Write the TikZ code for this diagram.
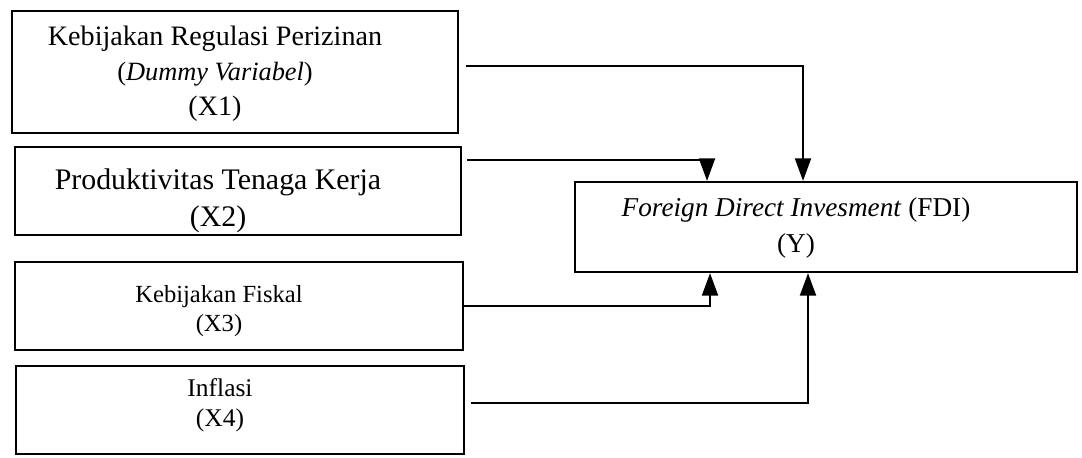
\documentclass[tikz,border=0pt]{standalone}
\usepackage{fontspec}
\setmainfont{Liberation Serif}
\usetikzlibrary{arrows.meta,positioning}

\tikzset{
    varbox/.style={draw, black, line width=1.3pt, inner sep=0pt},
    vartext/.style={align=center, inner sep=0pt},
    arr/.style={-{Triangle[length=4.5mm,width=3.2mm]}, line width=1.1pt}
}

\begin{document}
\begin{tikzpicture}[x=0.02cm, y=-0.02cm]
    \useasboundingbox (0,0) rectangle (1082,457);
    % variabel bebas
    \node [varbox, minimum width=8.92cm, minimum height=2.44cm] (x1) at (235,72) {};
    \node [varbox, minimum width=8.92cm, minimum height=1.76cm] (x2) at (238,191) {};
    \node [varbox, minimum width=8.96cm, minimum height=1.76cm] (x3) at (239,306) {};
    \node [varbox, minimum width=8.96cm, minimum height=1.76cm] (x4) at (240,410) {};
    \node [vartext, font=\fontsize{16}{20}\selectfont] (t1) at ([xshift=-0.4cm,yshift=-0.04cm]x1.center)
        {Kebijakan Regulasi Perizinan\\{\fontsize{15}{20}\selectfont(\textit{Dummy Variabel})}\\(X1)};
    \node [vartext, font=\fontsize{17}{21}\selectfont] (t2) at ([xshift=-0.4cm,yshift=-0.2cm]x2.center)
        {Produktivitas Tenaga Kerja\\(X2)};
    \node [vartext, font=\fontsize{14}{16.5}\selectfont] (t3) at ([xshift=-0.4cm,yshift=-0.1cm]x3.center)
        {Kebijakan Fiskal\\(X3)};
    \node [vartext, font=\fontsize{14.5}{17}\selectfont] (t4) at ([xshift=-0.4cm,yshift=0.1cm]x4.center)
        {Inflasi\\(X4)};
    % variabel terikat
    \node [varbox, minimum width=10.04cm, minimum height=1.8cm] (fdi) at (826,227) {};
    \node [vartext, font=\fontsize{15.5}{20}\selectfont] (ty) at ([xshift=-0.6cm,yshift=-0.02cm]fdi.center)
        {\textit{Foreign Direct Invesment} (FDI)\\(Y)};
    % panah
    \draw [arr] ([xshift=0.14cm,yshift=0.12cm]x1.east) -| ([xshift=-0.46cm]fdi.north);
    \draw [arr] ([xshift=0.10cm,yshift=0.62cm]x2.east) -| ([xshift=-2.38cm]fdi.north);
    \draw [arr] (x3.east) -| ([xshift=-2.32cm]fdi.south);
    \draw [arr] ([xshift=0.12cm,yshift=0.14cm]x4.east) -| ([xshift=-0.36cm]fdi.south);
\end{tikzpicture}
\end{document}
